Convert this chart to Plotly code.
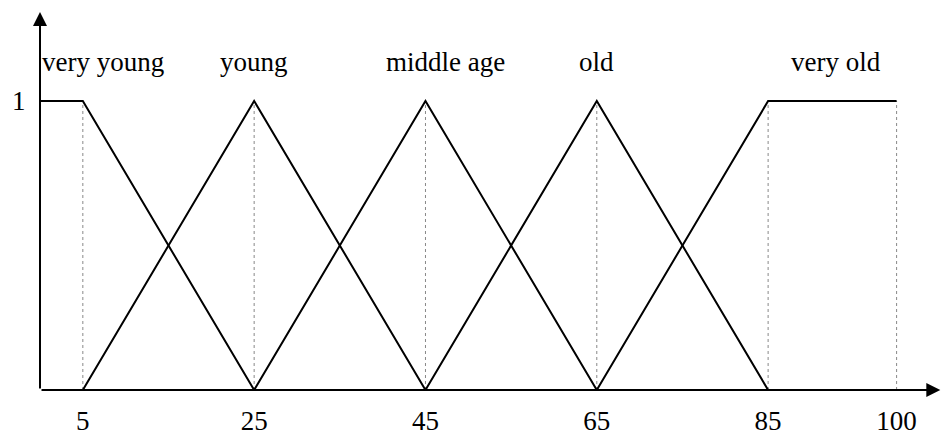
import plotly.graph_objects as go

# --- data ---
set_names = ["very young", "young", "middle age", "old", "very old"]
set_x = [
    [0, 5, 25],
    [5, 25, 45],
    [25, 45, 65],
    [45, 65, 85],
    [65, 85, 100],
]
set_y = [
    [1, 1, 0],
    [0, 1, 0],
    [0, 1, 0],
    [0, 1, 0],
    [0, 1, 1],
]
breakpoints = [5, 25, 45, 65, 85, 100]
tick_labels = ["5", "25", "45", "65", "85", "100"]
label_x = [7.33, 24.96, 47.3, 64.95, 92.97]
label_y = 1.135

FONT = "Liberation Serif, Times New Roman, serif"

fig = go.Figure()

# dotted guide lines at breakpoints
for b in breakpoints:
    fig.add_trace(go.Scatter(
        x=[b, b], y=[0, 1], mode="lines",
        line=dict(color="#888888", width=1, dash="dot"),
        hoverinfo="skip", showlegend=False,
    ))

for name, xs, ys in zip(set_names, set_x, set_y):
    fig.add_trace(go.Scatter(
        x=xs, y=ys, mode="lines", name=name,
        line=dict(color="black", width=2),
        showlegend=False,
    ))

annotations = []
for name, lx in zip(set_names, label_x):
    annotations.append(dict(
        x=lx, y=label_y, xref="x", yref="y", text=name, showarrow=False,
        font=dict(family=FONT, size=27, color="black"),
        xanchor="center", yanchor="middle",
    ))

# axes with arrowheads
annotations.append(dict(
    x=105.1, y=0, ax=0, ay=0, xref="x", yref="y", axref="x", ayref="y",
    text="", showarrow=True, arrowhead=2, arrowsize=1.4, arrowwidth=2,
    arrowcolor="black", standoff=0, startstandoff=0,
))
annotations.append(dict(
    x=0, y=1.308, ax=0, ay=0, xref="x", yref="y", axref="x", ayref="y",
    text="", showarrow=True, arrowhead=2, arrowsize=1.4, arrowwidth=2,
    arrowcolor="black", standoff=0, startstandoff=0,
))

fig.update_layout(
    width=948, height=435,
    margin=dict(l=40, r=0, t=0, b=45, autoexpand=False),
    paper_bgcolor="white", plot_bgcolor="white",
    font=dict(family=FONT, size=27, color="black"),
    annotations=annotations,
    xaxis=dict(
        range=[0, 106.0], showgrid=False, zeroline=False, showline=False,
        tickvals=breakpoints, ticktext=tick_labels,
        ticks="outside", ticklen=7, tickcolor="rgba(0,0,0,0)",
        tickfont=dict(family=FONT, size=27, color="black"),
        automargin=False, fixedrange=True,
    ),
    yaxis=dict(
        range=[0, 1.3495], showgrid=False, zeroline=False, showline=False,
        tickvals=[1], ticktext=["1"],
        ticks="outside", ticklen=8, tickcolor="rgba(0,0,0,0)",
        tickfont=dict(family=FONT, size=27, color="black"),
        automargin=False, fixedrange=True,
    ),
)

fig.write_html(
    "out.html",
    config={"displayModeBar": False},
    post_script="document.body.style.margin='0';document.body.style.overflow='hidden';",
)
